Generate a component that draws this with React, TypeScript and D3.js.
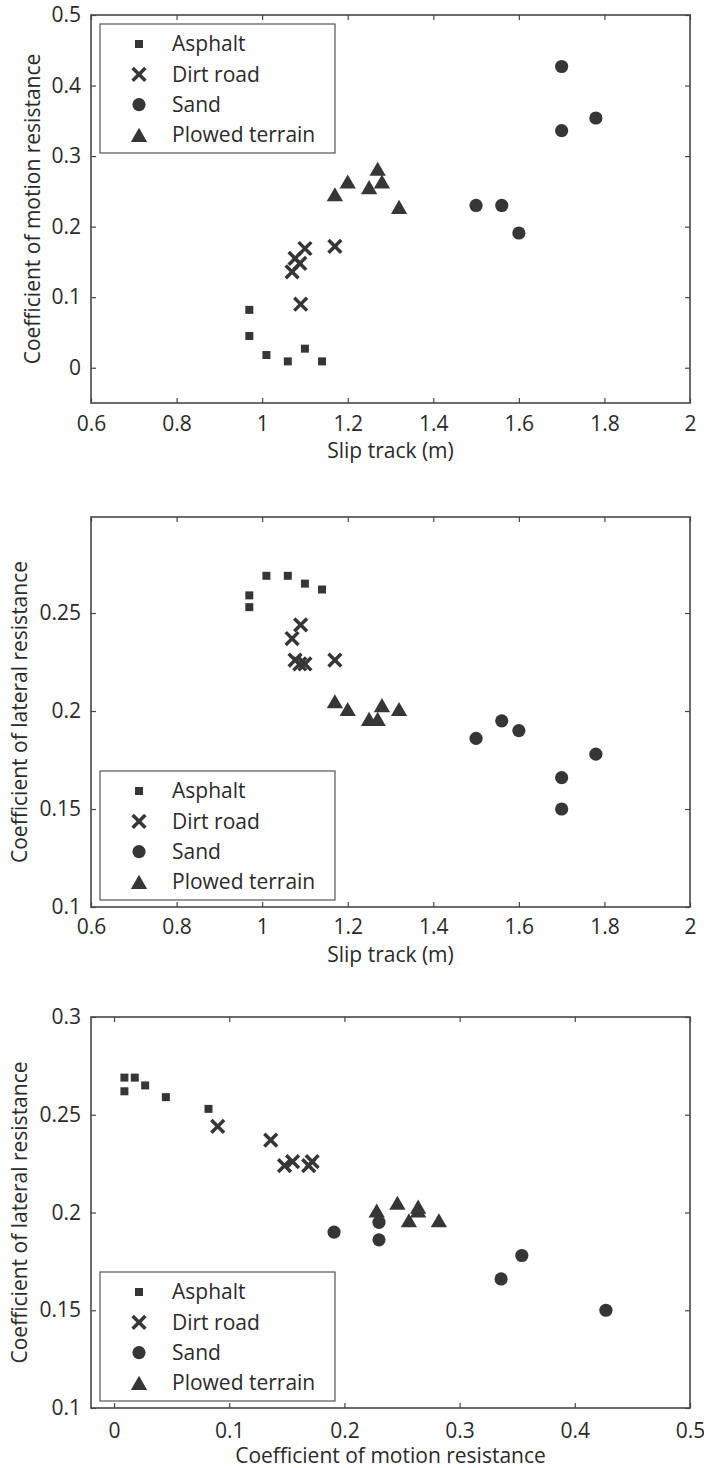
import { useEffect, useRef } from "react";
import * as d3 from "d3";

// surfaces in legend order, one marker each
const SURFACES = ["Asphalt", "Dirt road", "Sand", "Plowed terrain"];
const MARKERS = ["square", "times", "circle", "triangle"];

// slip track (m), coefficient of motion resistance, coefficient of lateral resistance
const asphaltSlip = [0.97, 0.97, 1.01, 1.06, 1.1, 1.14];
const asphaltMotion = [0.082, 0.045, 0.018, 0.009, 0.027, 0.009];
const asphaltLateral = [0.253, 0.259, 0.269, 0.269, 0.265, 0.262];

const dirtSlip = [1.09, 1.07, 1.077, 1.088, 1.1, 1.17];
const dirtMotion = [0.09, 0.136, 0.155, 0.148, 0.169, 0.172];
const dirtLateral = [0.244, 0.237, 0.226, 0.224, 0.224, 0.226];

const sandSlip = [1.5, 1.56, 1.6, 1.7, 1.7, 1.78];
const sandMotion = [0.23, 0.23, 0.191, 0.427, 0.336, 0.354];
const sandLateral = [0.186, 0.195, 0.19, 0.15, 0.166, 0.178];

const plowedSlip = [1.17, 1.2, 1.25, 1.27, 1.28, 1.32];
const plowedMotion = [0.246, 0.264, 0.256, 0.282, 0.264, 0.228];
const plowedLateral = [0.205, 0.201, 0.196, 0.196, 0.203, 0.201];

const SLIP_TICKS = [0.6, 0.8, 1, 1.2, 1.4, 1.6, 1.8, 2];
const MOTION_X_TICKS = [0, 0.1, 0.2, 0.3, 0.4, 0.5];
const MOTION_Y_TICKS = [0, 0.1, 0.2, 0.3, 0.4, 0.5];
const LATERAL_TICKS_MID = [0.1, 0.15, 0.2, 0.25];
const LATERAL_TICKS_LOW = [0.1, 0.15, 0.2, 0.25, 0.3];

const SLIP_LABEL = "Slip track (m)";
const MOTION_LABEL = "Coefficient of motion resistance";
const LATERAL_LABEL = "Coefficient of lateral resistance";

const W = 704;
const H = 1468;
const FONT = "'Open Sans', 'Noto Sans', sans-serif";
const INK = "#363636";
const AXIS = "#464646";
const TEXT = "#2a2a2a";

type Pt = { x: number; y: number };

const zip = (xs: number[], ys: number[]): Pt[] => xs.map((x, i) => ({ x, y: ys[i] }));

interface Panel {
  series: Pt[][];
  xDomain: [number, number];
  yDomain: [number, number];
  xTicks: number[];
  yTicks: number[];
  xLabel: string;
  yLabel: string;
  top: number;
  bottom: number;
  yLabelX: number;
  xTickPad: number;
  legendTop: number;
}

const PANELS: Panel[] = [
  {
    series: [
      zip(asphaltSlip, asphaltMotion),
      zip(dirtSlip, dirtMotion),
      zip(sandSlip, sandMotion),
      zip(plowedSlip, plowedMotion),
    ],
    xDomain: [0.6, 2],
    yDomain: [-0.05, 0.5],
    xTicks: SLIP_TICKS,
    yTicks: MOTION_Y_TICKS,
    xLabel: SLIP_LABEL,
    yLabel: MOTION_LABEL,
    top: 15,
    bottom: 403,
    yLabelX: 40,
    xTickPad: 13,
    legendTop: 24,
  },
  {
    series: [
      zip(asphaltSlip, asphaltLateral),
      zip(dirtSlip, dirtLateral),
      zip(sandSlip, sandLateral),
      zip(plowedSlip, plowedLateral),
    ],
    xDomain: [0.6, 2],
    yDomain: [0.1, 0.299],
    xTicks: SLIP_TICKS,
    yTicks: LATERAL_TICKS_MID,
    xLabel: SLIP_LABEL,
    yLabel: LATERAL_LABEL,
    top: 517,
    bottom: 907,
    yLabelX: 27,
    xTickPad: 12,
    legendTop: 771,
  },
  {
    series: [
      zip(asphaltMotion, asphaltLateral),
      zip(dirtMotion, dirtLateral),
      zip(sandMotion, sandLateral),
      zip(plowedMotion, plowedLateral),
    ],
    xDomain: [-0.02, 0.5],
    yDomain: [0.1, 0.3],
    xTicks: MOTION_X_TICKS,
    yTicks: LATERAL_TICKS_LOW,
    xLabel: MOTION_LABEL,
    yLabel: LATERAL_LABEL,
    top: 1017,
    bottom: 1408,
    yLabelX: 27,
    xTickPad: 15,
    legendTop: 1272,
  },
];

const LEFT = 91;
const RIGHT = 690;
const TICK = 5;

// marker geometry
const TRI = 4.7; // d3 triangle half-unit
function addMarker(sel: d3.Selection<SVGGElement, unknown, null, undefined>, kind: string, cx: number, cy: number) {
  if (kind === "square") {
    sel.append("path")
      .attr("d", d3.symbol(d3.symbolSquare, 64)()!)
      .attr("transform", `translate(${cx},${cy})`)
      .attr("fill", INK);
  } else if (kind === "times") {
    sel.append("path")
      .attr("d", d3.symbol(d3.symbolTimes, 108)()!)
      .attr("transform", `translate(${cx},${cy})`)
      .attr("fill", "none")
      .attr("stroke", INK)
      .attr("stroke-width", 3.5);
  } else if (kind === "circle") {
    sel.append("path")
      .attr("d", d3.symbol(d3.symbolCircle, Math.PI * 6.6 * 6.6)()!)
      .attr("transform", `translate(${cx},${cy})`)
      .attr("fill", INK);
  } else {
    // shift so the bounding box (not the centroid) sits on the point
    sel.append("path")
      .attr("d", d3.symbol(d3.symbolTriangle, TRI * TRI * 3 * Math.sqrt(3))()!)
      .attr("transform", `translate(${cx},${cy + TRI / 2})`)
      .attr("fill", INK);
  }
}

function drawPanel(svg: d3.Selection<SVGSVGElement, unknown, null, undefined>, p: Panel) {
  const x = d3.scaleLinear().domain(p.xDomain).range([LEFT, RIGHT]);
  const y = d3.scaleLinear().domain(p.yDomain).range([p.bottom, p.top]);
  const fmt = d3.format("~g");

  const g = svg.append("g");

  const styleAxis = (a: d3.Selection<SVGGElement, unknown, null, undefined>) => {
    a.attr("color", AXIS).attr("font-family", FONT).attr("font-size", 21);
    a.select(".domain").remove();
    a.selectAll(".tick line").attr("stroke-width", 1.2);
    a.selectAll("text").attr("fill", TEXT);
  };

  g.append("g")
    .attr("transform", `translate(0,${p.bottom})`)
    .call(d3.axisBottom(x).tickValues(p.xTicks).tickSizeInner(-TICK).tickSizeOuter(0).tickPadding(p.xTickPad).tickFormat((d) => fmt(d as number)))
    .call(styleAxis);
  g.append("g")
    .attr("transform", `translate(0,${p.top})`)
    .call(d3.axisTop(x).tickValues(p.xTicks).tickSizeInner(-TICK).tickSizeOuter(0).tickFormat(() => ""))
    .call(styleAxis);
  g.append("g")
    .attr("transform", `translate(${LEFT},0)`)
    .call(d3.axisLeft(y).tickValues(p.yTicks).tickSizeInner(-TICK).tickSizeOuter(0).tickPadding(10).tickFormat((d) => fmt(d as number)))
    .call(styleAxis);
  g.append("g")
    .attr("transform", `translate(${RIGHT},0)`)
    .call(d3.axisRight(y).tickValues(p.yTicks).tickSizeInner(-TICK).tickSizeOuter(0).tickFormat(() => ""))
    .call(styleAxis);

  g.append("rect")
    .attr("x", LEFT)
    .attr("y", p.top)
    .attr("width", RIGHT - LEFT)
    .attr("height", p.bottom - p.top)
    .attr("fill", "none")
    .attr("stroke", AXIS)
    .attr("stroke-width", 1.6);

  // points
  const marks = g.append("g");
  p.series.forEach((pts, i) => {
    pts.forEach((d) => addMarker(marks, MARKERS[i], x(d.x), y(d.y)));
  });

  // axis titles
  g.append("text")
    .attr("x", (LEFT + RIGHT) / 2)
    .attr("y", p.bottom + 55)
    .attr("text-anchor", "middle")
    .attr("font-family", FONT)
    .attr("font-size", 21)
    .attr("fill", TEXT)
    .text(p.xLabel);
  g.append("text")
    .attr("transform", `translate(${p.yLabelX},${(p.top + p.bottom) / 2}) rotate(-90)`)
    .attr("text-anchor", "middle")
    .attr("font-family", FONT)
    .attr("font-size", 21)
    .attr("fill", TEXT)
    .text(p.yLabel);

  // legend
  const lg = g.append("g").attr("transform", `translate(100,${p.legendTop})`);
  lg.append("rect")
    .attr("width", 235)
    .attr("height", 129)
    .attr("fill", "#fff")
    .attr("stroke", "#555")
    .attr("stroke-width", 1.2);
  SURFACES.forEach((name, i) => {
    const ry = 20 + i * 30.3;
    addMarker(lg, MARKERS[i], 39, ry);
    lg.append("text")
      .attr("x", 72)
      .attr("y", ry)
      .attr("dy", "0.35em")
      .attr("font-family", FONT)
      .attr("font-size", 21)
      .attr("fill", TEXT)
      .text(name);
  });
}

export default function App() {
  const svgRef = useRef<SVGSVGElement>(null);

  useEffect(() => {
    if (!svgRef.current) return;
    const svg = d3.select(svgRef.current);
    svg.selectAll("*").remove();
    svg.append("rect").attr("width", W).attr("height", H).attr("fill", "#fff");
    PANELS.forEach((p) => drawPanel(svg, p));
  }, []);

  return (
    <svg
      ref={svgRef}
      width={W}
      height={H}
      viewBox={`0 0 ${W} ${H}`}
      style={{ position: "absolute", left: 0, top: 0 }}
    />
  );
}
